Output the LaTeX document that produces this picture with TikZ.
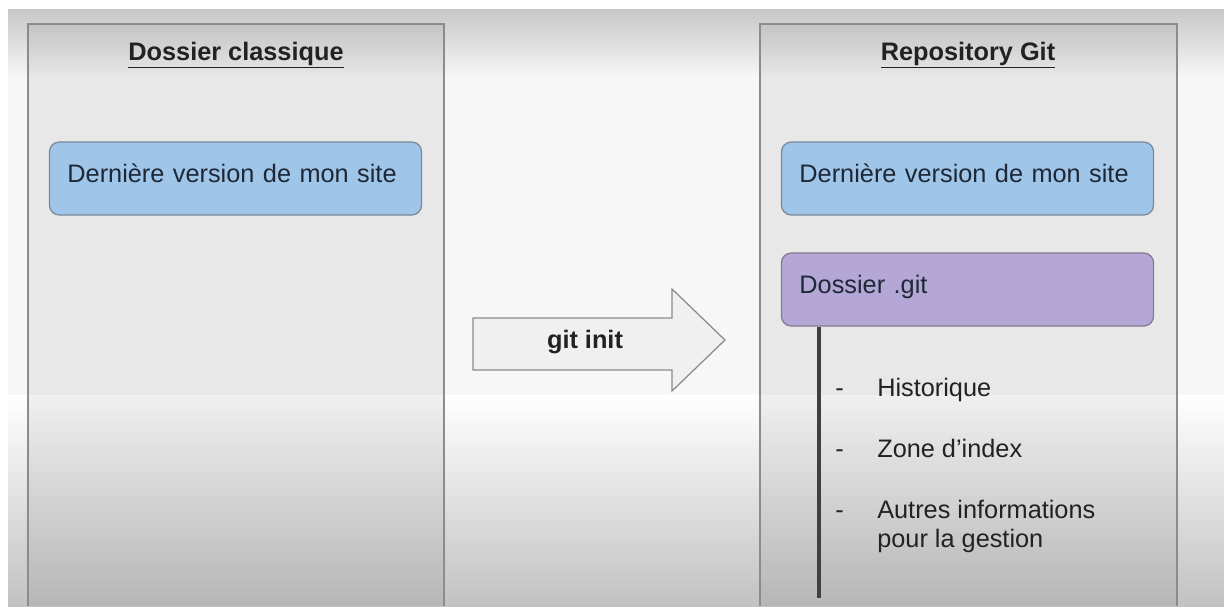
\documentclass[tikz,border=0pt]{standalone}
\usepackage{fontspec}
\setmainfont{Liberation Sans}
\usepackage{xcolor}
\definecolor{siteblue}{HTML}{9FC5E8}
\definecolor{gitpurple}{HTML}{B4A7D6}
\definecolor{inktext}{HTML}{222222}
\definecolor{boxtext}{HTML}{1E2836}
\tikzset{
  panelside/.style={draw=black!45, line width=1.2pt},
  title/.style={font=\fontsize{18}{21}\selectfont\bfseries, text=inktext, anchor=base, inner sep=0pt},
  bluebox/.style={draw=siteblue!55!black!80, fill=siteblue, line width=0.9pt, rounded corners=7pt,
    minimum width=9.3cm, minimum height=1.825cm, text width=8.4cm, align=left,
    inner xsep=0.45cm, text height=12.6pt, text depth=6.3pt,
    font=\fontsize{18}{21}\selectfont, text=boxtext},
  gitbox/.style={bluebox, draw=gitpurple!60!black!85, fill=gitpurple},
  item/.style={font=\fontsize{18}{20.6}\selectfont, text=inktext, anchor=base west, inner sep=0pt, align=left},
  stem/.style={draw=black!75, line width=2.8pt}
}

\begin{document}
\begin{tikzpicture}[x=0.025cm, y=-0.025cm]
    \useasboundingbox (0,0) rectangle (1224,606);
    % background
    \fill[white] (0,0) rectangle (1224,606);
    \shade[top color=black!22, bottom color=black!4] (8,9) rectangle (1224,75);
    \fill[black!3] (8,75) rectangle (1224,395);
    \shade[top color=white, bottom color=black!24] (8,395) rectangle (1224,606);
    % panels
    \fill[black, fill opacity=.06] (28,24) rectangle (444,606);
    \fill[black, fill opacity=.06] (760,24) rectangle (1177,606);
    \draw[panelside] (28,606) -- (28,24) -- (444,24) -- (444,606);
    \draw[panelside] (760,606) -- (760,24) -- (1177,24) -- (1177,606);
    \node[title] (classique) at (236,60) {\underline{Dossier classique}};
    \node[title] (repo) at (968,60) {\underline{Repository Git}};
    % boxes
    \node[bluebox] (siteleft) at (235.5,178.5) {Dernière version de mon site};
    \node[bluebox] (siteright) at (967.5,178.5) {Dernière version de mon site};
    \node[gitbox] (gitdir) at (967.5,289.5) {Dossier .git};
    % arrow
    \filldraw[fill=black!6, draw=black!45, line width=0.9pt, line join=miter]
      (473,318) -- (672,318) -- (672,289) -- (725,340) -- (672,391) -- (672,370) -- (473,370) -- cycle;
    \node[title] (init) at (585,348) {git init};
    % contenu du dossier .git
    \coordinate (stemend) at (819,598);
    \draw[stem] (gitdir.south -| stemend) -- (stemend);
    \node[item] (d1) at (835,396) {-};
    \node[item] (histo) at (877,396) {Historique};
    \node[item] (d2) at (835,457) {-};
    \node[item] (index) at (877,457) {Zone d’index};
    \node[item] (d3) at (835,518) {-};
    \node[item] (autres) at (877,547) {Autres informations\\pour la gestion};
\end{tikzpicture}
\end{document}
